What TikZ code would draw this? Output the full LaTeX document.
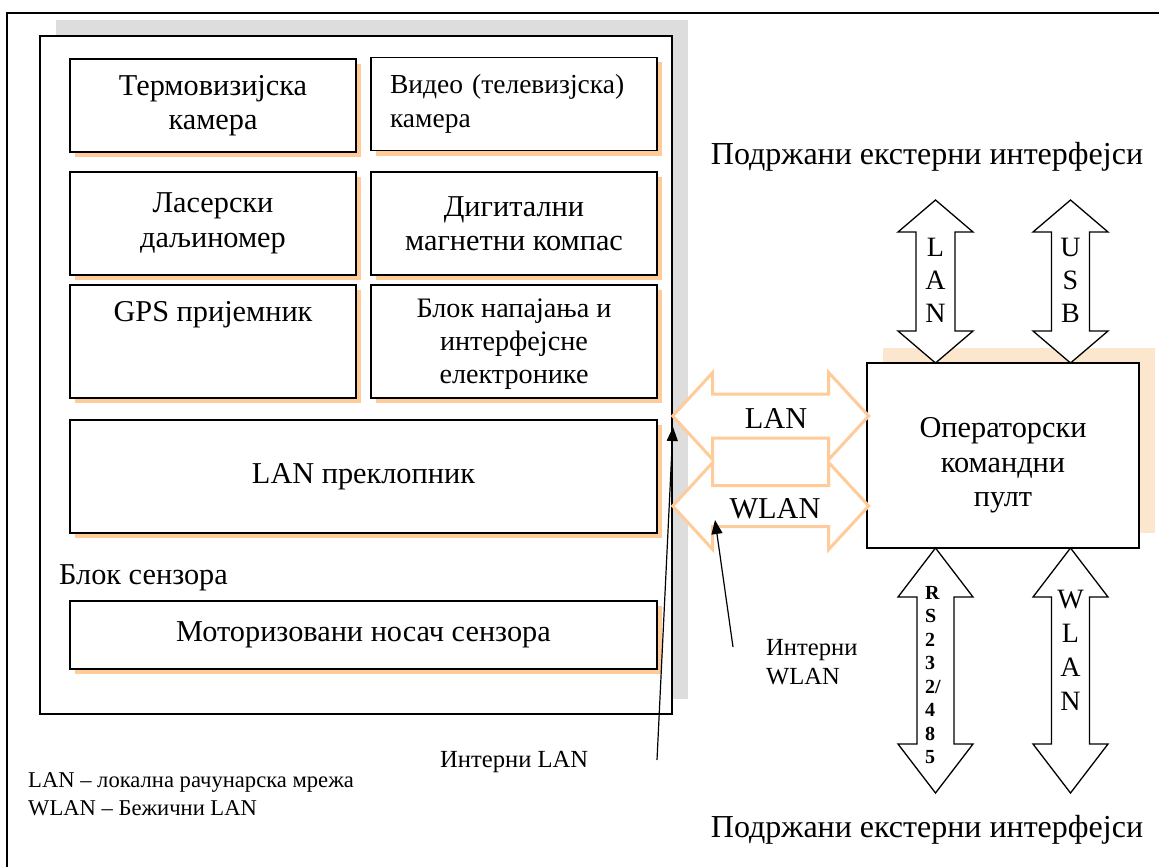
\documentclass[tikz,border=0pt]{standalone}
\usepackage{fontspec}
\setmainfont{Liberation Serif}
\usetikzlibrary{arrows.meta,positioning,calc,shadows}
\definecolor{Peach}{HTML}{FFCC99}
\definecolor{PeachLight}{HTML}{FDE6CE}
\definecolor{Shade}{HTML}{DDDDDD}
\newcommand{\bigfont}{\fontsize{30.3}{34.5}\selectfont}
\newcommand{\smallfont}{\fontsize{22.6}{26}\selectfont}
% two-headed block arrows, drawn from one tip
\newcommand{\twowayH}[6]{%
  \draw[#1] (#2) -- ++(#6,-#5) -- ++(0,{#5-#4}) -- ++({#3-2*#6},0) -- ++(0,{#4-#5})
    -- ++(#6,#5) -- ++(-#6,#5) -- ++(0,{#4-#5}) -- ++({2*#6-#3},0) -- ++(0,{#5-#4}) -- cycle;}
\newcommand{\twowayV}[6]{%
  \draw[#1] (#2) -- ++(#5,#6) -- ++({#4-#5},0) -- ++(0,{#3-2*#6}) -- ++({#5-#4},0)
    -- ++(-#5,#6) -- ++(-#5,-#6) -- ++({#5-#4},0) -- ++(0,{2*#6-#3}) -- ++({#4-#5},0) -- cycle;}
\begin{document}
\begin{tikzpicture}[x=1pt,y=-1pt,
    unit/.style={draw,line width=1.4pt,fill=white,inner sep=0pt,font=\bigfont,align=center,
      minimum width=286pt,
      drop shadow={shadow xshift=5pt,shadow yshift=-5pt,fill=Peach,opacity=1}},
    hollow/.style={draw=Peach,line width=3pt,fill=white,line join=miter},
    solid/.style={draw=black,line width=1.3pt,fill=white,line join=miter},
    pointer/.style={line width=1.2pt,-{Triangle[length=14pt,width=11pt]}},
    note/.style={font=\smallfont,inner sep=0pt}]
  \useasboundingbox (0,0) rectangle (1159,867);
  \draw[line width=2pt] (1170,13) -- (7,13) -- (7,880);

  % sensor block
  \node[draw,line width=1.4pt,fill=white,minimum width=632pt,minimum height=678pt,
        drop shadow={shadow xshift=15.5pt,shadow yshift=15.5pt,fill=Shade,opacity=1}]
        (sensor) at (356,375) {};
  \node[unit,minimum height=93pt] (thermal) at (213,105.5) {Термовизијска\\камера};
  \node[unit,minimum height=93pt,align=left,text width=248pt,font=\fontsize{27.5}{34.5}\selectfont]
        (video) at (514,104) {Видео (телевизјска)\\камера};
  \node[unit,minimum height=103pt] (laser) at (213,223.5) {Ласерски\\даљиномер};
  \node[unit,minimum height=103pt] (compass) at (514,223.5) {Дигитални\\магнетни компас};
  \node[unit,minimum height=113pt] (gps) at (213,341.5) {};
  \node[font=\bigfont,anchor=north,inner sep=0pt] (gpstext) at ([yshift=-17pt]gps.north) {GPS пријемник};
  \node[unit,minimum height=113pt,font=\fontsize{28.2}{33}\selectfont] (power) at (514,341.5)
        {\strut Блок напајања и\\интерфејсне\\електронике};
  \node[unit,minimum width=587pt,minimum height=113pt] (switch) at (363.5,476.5) {LAN преклопник};
  \node[anchor=west,font=\bigfont,inner sep=0pt] (blocklabel) at (59,578) {Блок сензора};
  \node[unit,minimum width=587pt,minimum height=68pt] (mount) at (363.5,635) {Моторизовани носач сензора};

  % operator console
  \node[draw,line width=1.4pt,fill=white,minimum width=272pt,minimum height=185pt,
        drop shadow={shadow xshift=16pt,shadow yshift=15pt,fill=PeachLight,opacity=1}]
        (console) at (1003,455.5) {};
  \node[font=\bigfont,align=center,inner sep=0pt] (consoletext) at ([yshift=-10pt]console.center)
        {Операторски\\командни\\пулт};

  % links between the two blocks
  \coordinate (lanrow) at (0,416);
  \coordinate (wlanrow) at (0,506);
  \twowayH{hollow}{sensor.east |- lanrow}{196}{22}{43.5}{40}
  \twowayH{hollow}{sensor.east |- wlanrow}{196}{20.5}{43.5}{40}
  \node[font=\bigfont,inner sep=0pt] (lanlink) at (776,418) {LAN};
  \node[font=\bigfont,inner sep=0pt] (wlanlink) at (775,509) {WLAN};

  % external interfaces
  \node[font=\fontsize{32}{36}\selectfont,inner sep=0pt] (extup) at (927,157) {Подржани екстерни интерфејси};
  \coordinate (lanup) at (935.5,200);
  \coordinate (usbup) at (1070.5,200);
  \twowayV{solid}{lanup}{163}{19.5}{37.5}{32}
  \twowayV{solid}{usbup}{163}{19}{37.5}{32}
  \node[font=\fontsize{28}{33}\selectfont,align=center,inner sep=0pt] at (935.5,280) {L\\A\\N};
  \node[font=\fontsize{28}{33}\selectfont,align=center,inner sep=0pt] at (1070.5,280) {U\\S\\B};

  \coordinate (rsdown) at (935.5,548);
  \coordinate (wlandown) at (1070.5,548);
  \twowayV{solid}{rsdown}{245}{18.5}{37.5}{49}
  \twowayV{solid}{wlandown}{245}{19}{37.5}{49}
  \node[font=\fontsize{20}{23.5}\selectfont\bfseries,align=left,inner sep=0pt] at (933,675)
        {R\\S\\2\\3\\2/\\4\\8\\5};
  \node[font=\fontsize{28}{34}\selectfont,align=center,inner sep=0pt] at (1070.5,650) {W\\L\\A\\N};
  \node[font=\fontsize{32}{36}\selectfont,inner sep=0pt] (extdown) at (927,830) {Подржани екстерни интерфејси};

  % internal links
  \node[note,anchor=west,font=\fontsize{24.6}{28}\selectfont] (ilan) at (440,762) {Интерни LAN};
  \node[note,anchor=west,align=left,font=\fontsize{24.6}{28.5}\selectfont] (iwlan) at (766,662) {Интерни\\WLAN};
  \coordinate (ilantail) at (657,760);
  \coordinate (ilantip) at (673,427);
  \coordinate (iwlantail) at (733,647);
  \coordinate (iwlantip) at (715,520);
  \draw[pointer] (ilantail) -- (ilantip);
  \draw[pointer] (iwlantail) -- (iwlantip);

  % legend
  \node[note,anchor=west] (legend1) at (28,782) {LAN – локална рачунарска мрежа};
  \node[note,anchor=west] (legend2) at (28,808) {WLAN – Бежични LAN};
\end{tikzpicture}
\end{document}
